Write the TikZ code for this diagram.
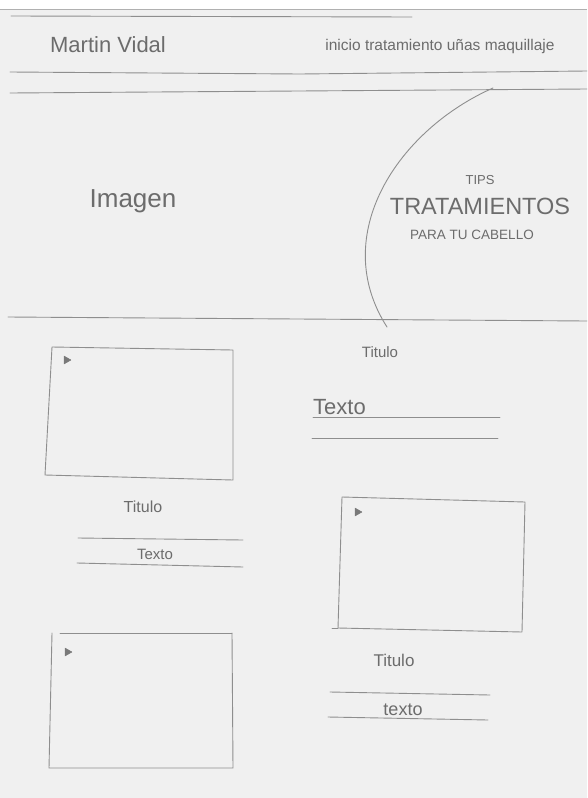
\documentclass[tikz,border=0pt]{standalone}
\usepackage{fontspec}
\setmainfont{Liberation Sans}
\definecolor{paper}{HTML}{F0F0F0}
\definecolor{pencil}{HTML}{8E8E8E}
\definecolor{ink}{HTML}{6C6C6C}
\tikzset{
  pencil/.style={draw=pencil, line width=0.9pt, line cap=round, line join=round},
  hand/.style={text=ink, inner sep=0pt, anchor=base},
  play/.style={fill=pencil!85!black, draw=pencil!85!black, line width=0.4pt, line join=round},
}
\newcommand{\fsz}[1]{\fontsize{#1}{#1}\selectfont}
\begin{document}
\begin{tikzpicture}[x=1pt,y=-1pt]
\useasboundingbox (0,0) rectangle (587,798);
% paper
\fill[paper] (0,0) rectangle (587,798);
\fill[white] (0,0) rectangle (587,9);
\draw[draw=pencil!70, line width=0.7pt] (0,9.5) -- (587,9.5);
\draw[pencil] (11,16) -- (412,17);
% header
\node[hand] (name) at (108,52) {\fsz{22}Martin Vidal};
\node[hand] (nav) at (440,50) {\fsz{15.5}inicio tratamiento uñas maquillaje};
\draw[pencil] (10,72) -- (300,74) -- (587,71);
\draw[pencil] (10,93) -- (587,89);
% hero
\node[hand] (imagen) at (133,207) {\fsz{26}Imagen};
\draw[pencil] (493,88) .. controls (398,130) and (328,235) .. (387,327);
\node[hand] (tips) at (480,184) {\fsz{13}TIPS};
\node[hand] (trat) at (480,214) {\fsz{23.5}TRATAMIENTOS};
\node[hand] (para) at (472,239) {\fsz{13.5}PARA TU CABELLO};
\draw[pencil] (8,317) -- (587,321);
% card 1 (left top)
\draw[pencil] (52,347) -- (233,350) -- (233,480) -- (45,475) -- cycle;
\fill[play] (64,356) -- (71,360) -- (64,364) -- cycle;
\node[hand] (t1) at (143,512) {\fsz{16}Titulo};
\draw[pencil] (78,538) -- (243,540);
\node[hand] (x1) at (155,559) {\fsz{15}Texto};
\draw[pencil] (77,563) -- (243,567);
% right top text block
\node[hand] (t2) at (380,357) {\fsz{15}Titulo};
\node[hand, anchor=base west] (x2) at (313,414) {\fsz{22}Texto};
\draw[pencil] (313,417) -- (500,417);
\draw[pencil] (312,438) -- (498,438);
% card 2 (right)
\draw[pencil] (342,497) -- (525,502) -- (522,632) -- (338,628) -- cycle;
\draw[pencil] (332,628) -- (338,628);
\fill[play] (355,508) -- (362,512) -- (355,516) -- cycle;
\node[hand] (t3) at (394,666) {\fsz{17}Titulo};
\draw[pencil] (330,692) -- (490,695);
\node[hand] (x3) at (403,715) {\fsz{18}texto};
\draw[pencil] (328,717) -- (488,720);
% card 3 (left bottom)
\draw[pencil] (60,633) -- (232,633);
\draw[pencil] (52,633) -- (49,768) -- (233,768) -- (232,633);
\fill[play] (65,648) -- (72,652) -- (65,656) -- cycle;
\end{tikzpicture}
\end{document}
